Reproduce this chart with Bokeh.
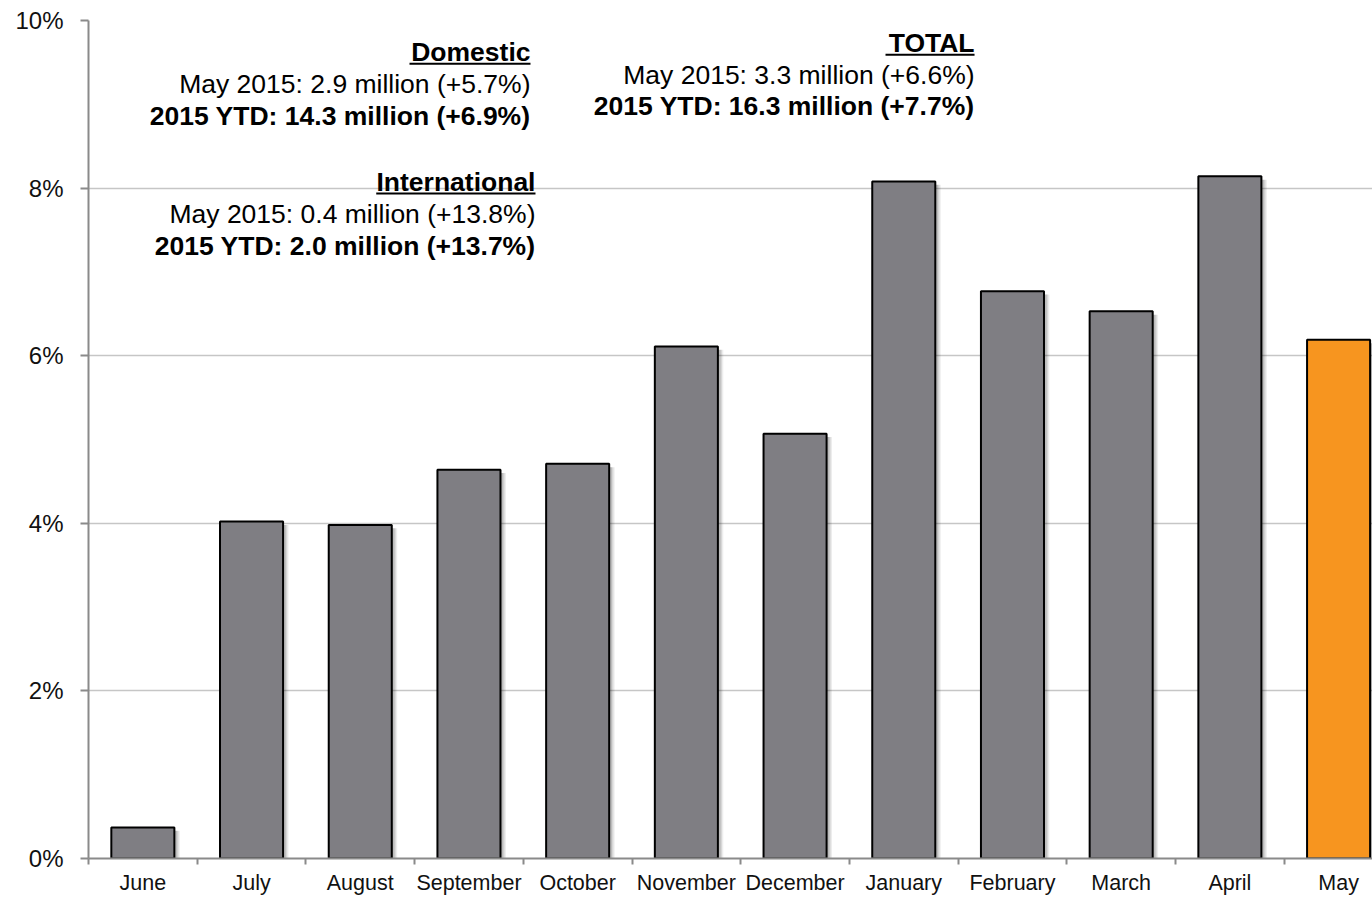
from bokeh.plotting import figure
from bokeh.models import FixedTicker, ColumnDataSource, Range1d
from bokeh.core.properties import value
from bokeh.embed import file_html
from bokeh.resources import INLINE

months = ["June", "July", "August", "September", "October", "November",
          "December", "January", "February", "March", "April", "May"]
growth = [0.37, 4.02, 3.98, 4.64, 4.71, 6.11, 5.07, 8.08, 6.77, 6.53, 8.14, 6.19]
bar_colors = ["#7f7e83"] * 11 + ["#f7951f"]
y_ticks = [0, 2, 4, 6, 8, 10]
y_labels = ["0%", "2%", "4%", "6%", "8%", "10%"]

# annotation blocks: (title, line1, line2)
blocks = [
    ("Domestic", "May 2015: 2.9 million (+5.7%)", "2015 YTD: 14.3 million (+6.9%)"),
    ("International", "May 2015: 0.4 million (+13.8%)", "2015 YTD: 2.0 million (+13.7%)"),
    ("TOTAL", "May 2015: 3.3 million (+6.6%)", "2015 YTD: 16.3 million (+7.7%)"),
]
# layout of annotation blocks (right edge x, title y, line step, underline left x)
block_pos = [(3.566, 9.62, 0.38, 2.453), (3.612, 8.07, 0.38, 2.147), (7.651, 9.726, 0.376, 6.832)]

xs = list(range(len(months)))
FONT = "Liberation Sans"
TXT = "26.5px"

p = figure(width=1372, height=897, output_backend="svg", toolbar_location=None,
           x_range=Range1d(-0.5, 11.312), y_range=Range1d(0, 10),
           min_border_left=88, min_border_right=0, min_border_top=20, min_border_bottom=38)
p.outline_line_color = None
p.background_fill_color = "white"

# y axis
p.yaxis.ticker = FixedTicker(ticks=y_ticks)
p.yaxis.major_label_overrides = {t: l for t, l in zip(y_ticks, y_labels)}
p.yaxis.major_label_text_font = FONT
p.yaxis.major_label_text_font_size = "24px"
p.yaxis.major_label_text_color = "#111111"
p.yaxis.axis_line_color = "#8a8a8a"
p.yaxis.axis_line_width = 2
p.yaxis.major_tick_line_color = "#8a8a8a"
p.yaxis.major_tick_line_width = 2
p.yaxis.major_tick_out = 8
p.yaxis.major_tick_in = 0
p.yaxis.minor_tick_line_color = None
p.yaxis.major_label_standoff = 17

# x axis
p.xaxis.ticker = FixedTicker(ticks=xs, minor_ticks=[i - 0.5 for i in range(len(months) + 1)])
p.xaxis.major_label_overrides = {i: m for i, m in enumerate(months)}
p.xaxis.major_label_text_font = FONT
p.xaxis.major_label_text_font_size = "21.5px"
p.xaxis.major_label_text_color = "#111111"
p.xaxis.axis_line_color = "#8a8a8a"
p.xaxis.axis_line_width = 2
p.xaxis.major_tick_line_color = None
p.xaxis.major_tick_out = 0
p.xaxis.major_tick_in = 0
p.xaxis.minor_tick_line_color = "#8a8a8a"
p.xaxis.minor_tick_line_width = 2
p.xaxis.minor_tick_out = 6
p.xaxis.minor_tick_in = 0
p.xaxis.major_label_standoff = 6

p.xgrid.grid_line_color = None
p.ygrid.grid_line_color = "#c6c6c6"
p.ygrid.grid_line_width = 1.5

src = ColumnDataSource(dict(x=xs, top=growth, color=bar_colors))

# soft shadows
for off, alpha in [(0.05, 0.07), (0.038, 0.09), (0.026, 0.12)]:
    p.vbar(x=[x + off for x in xs], top=[g - 0.04 for g in growth], bottom=0, width=0.58,
           fill_color="black", fill_alpha=alpha, line_color=None)

p.vbar(x="x", top="top", bottom=0, width=0.58, source=src,
       fill_color="color", line_color="black", line_width=2)

for (title, l1, l2), (xr, yt, step, ul) in zip(blocks, block_pos):
    p.text(x=[xr], y=[yt], text=[title], text_font=value(FONT), text_font_style="bold",
           text_font_size=TXT, text_align="right", text_baseline="middle", text_color="black")
    p.segment(x0=[ul], x1=[xr], y0=[yt - 0.135], y1=[yt - 0.135], line_color="black", line_width=2)
    p.text(x=[xr], y=[yt - step], text=[l1], text_font=value(FONT),
           text_font_size=TXT, text_align="right", text_baseline="middle", text_color="black")
    p.text(x=[xr], y=[yt - 2 * step], text=[l2], text_font=value(FONT), text_font_style="bold",
           text_font_size=TXT, text_align="right", text_baseline="middle", text_color="black")

open("out.html", "w").write(file_html(p, INLINE))
